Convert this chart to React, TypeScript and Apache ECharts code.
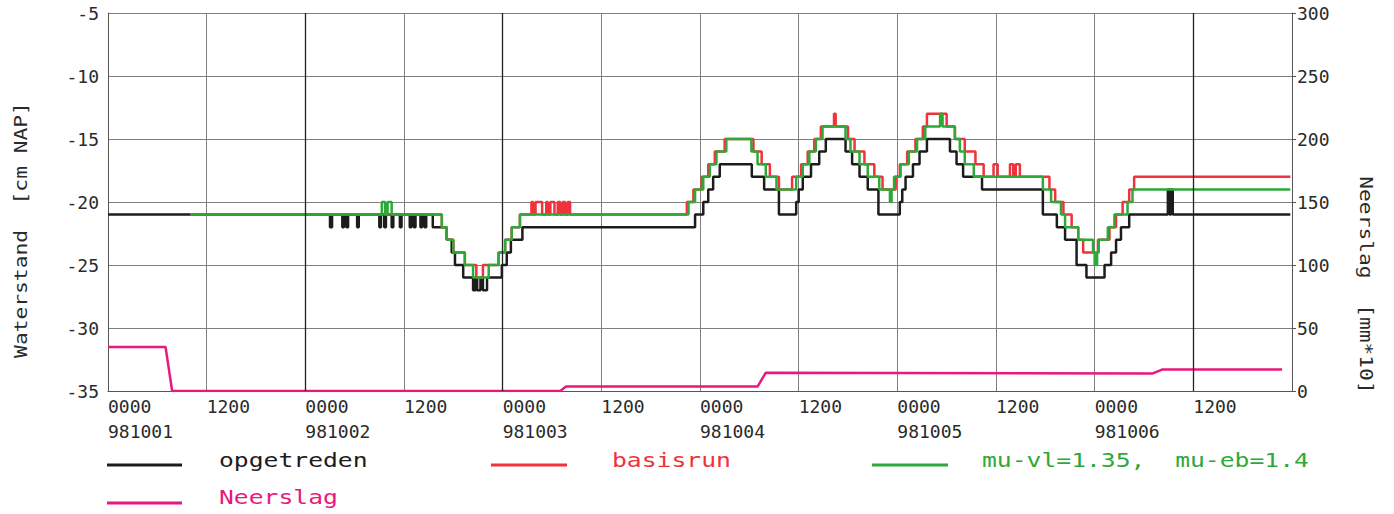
import React, { useEffect, useRef } from "react";
import * as echarts from "echarts";

// ---- tick labels ----
const dayLabels = ["981001", "981002", "981003", "981004", "981005", "981006"];
const hourLabels = ["0000", "1200"];
const darkGridHours = [24, 48, 132];

// ---- series: [hour since 981001 0000, value]; each value holds until the next point ----
const opgetreden: [number, number][] = [
  [0, -21], [27.0, -22], [27.25, -21], [28.5, -22], [28.7, -21], [29.0, -22], [29.2, -21],
  [30.3, -22], [30.5, -21], [33.0, -22], [33.2, -21], [33.6, -22], [33.8, -21], [34.5, -22],
  [34.7, -21], [35.5, -22], [35.7, -21], [36.7, -22], [36.9, -21], [37.2, -22], [37.4, -21],
  [38.0, -22], [38.2, -21], [38.5, -22], [38.7, -21],
  [39.5, -22], [41.2, -23], [41.8, -24], [42.2, -25], [43.2, -26], [44.4, -27], [44.7, -26],
  [44.9, -27], [45.3, -26], [45.6, -27], [46.1, -26], [47.9, -25], [48.5, -24], [49.0, -23],
  [50.4, -22], [71.4, -21], [72.4, -20], [73.0, -19], [73.6, -18], [74.4, -17], [78.3, -18],
  [79.8, -19], [81.6, -21], [83.7, -20], [84.0, -19], [84.5, -18], [85.5, -17], [86.5, -16],
  [87.3, -15], [89.7, -16], [90.5, -17], [91.4, -18], [92.4, -19], [93.7, -21], [96.3, -20],
  [96.6, -19], [97.0, -18], [97.9, -17], [98.7, -16], [99.6, -15], [102.4, -16], [103.2, -17],
  [104.0, -18], [106.3, -19], [113.7, -21], [115.4, -22], [116.4, -23], [117.8, -25],
  [119.0, -26], [121.2, -25], [122.0, -24], [122.6, -23], [123.2, -22], [124.2, -21],
  [128.9, -19], [129.1, -21], [129.3, -19], [129.5, -21], [143.8, -21],
];

const basisrun: [number, number][] = [
  [10, -21], [40.6, -22], [41.2, -23], [42.0, -24], [43.4, -25], [44.8, -26], [45.6, -25],
  [47.5, -24], [48.3, -23], [49.1, -22], [50.1, -21], [51.5, -20], [51.7, -21], [52.0, -20],
  [52.8, -21], [53.3, -20], [53.5, -21], [53.8, -20], [54.3, -21], [54.7, -20], [55.0, -21],
  [55.3, -20], [55.6, -21], [55.9, -20], [56.2, -21], [70.4, -20], [71.2, -19], [72.2, -18],
  [73.0, -17], [73.8, -16], [75.0, -15], [78.5, -16], [79.5, -17], [80.5, -18], [81.6, -19],
  [83.2, -18], [84.3, -17], [85.1, -16], [85.9, -15], [86.7, -14], [88.3, -13], [88.5, -14],
  [90.0, -15], [90.8, -16], [92.0, -17], [93.2, -18], [94.2, -19], [95.8, -18], [96.3, -17],
  [97.2, -16], [98.2, -15], [99.1, -14], [99.6, -13], [102.0, -14], [103.0, -15], [104.2, -16],
  [105.5, -17], [106.5, -18], [107.7, -17], [108.2, -18], [109.7, -17], [110.1, -18],
  [110.4, -17], [110.9, -18], [114.5, -19], [115.2, -20], [116.2, -21], [117.2, -22],
  [118.0, -23], [118.6, -24], [120.4, -23], [121.8, -22], [122.6, -21], [123.4, -20],
  [124.2, -19], [124.8, -18], [143.8, -18],
];

const muRun: [number, number][] = [
  [10, -21], [33.3, -20], [33.7, -21], [34.0, -20], [34.5, -21], [40.6, -22], [41.2, -23],
  [42.0, -24], [43.4, -25], [44.4, -26], [46.3, -25], [47.5, -24], [48.3, -23], [49.1, -22],
  [50.1, -21], [70.6, -20], [71.4, -19], [72.4, -18], [73.2, -17], [74.0, -16], [75.2, -15],
  [78.25, -16], [79.0, -17], [80.0, -18], [81.3, -19], [83.7, -18], [84.5, -17], [85.3, -16],
  [86.1, -15], [86.9, -14], [89.7, -15], [90.3, -16], [91.4, -17], [92.4, -18], [93.8, -19],
  [95.1, -20], [95.3, -19], [95.6, -18], [96.4, -17], [97.4, -16], [98.4, -15], [99.4, -14],
  [101.2, -13], [101.5, -14], [103.0, -15], [103.6, -16], [104.2, -17], [105.3, -18],
  [113.7, -19], [114.7, -20], [115.9, -21], [116.4, -22], [118.0, -23], [119.8, -24],
  [120.0, -25], [120.3, -24], [120.5, -23], [121.6, -22], [122.4, -21], [124.0, -20],
  [124.6, -19], [143.8, -19],
];

const neerslag: [number, number][] = [
  [0, 35], [7.0, 35], [7.8, 0], [55.0, 0], [55.7, 3.5], [79.0, 3.5], [80.0, 14.5],
  [127.0, 13.8], [128.2, 17], [142.8, 17],
];

const BLACK = "#1c1c1c";
const RED = "#f0323c";
const GREEN = "#2fa83a";
const PINK = "#e8197d";
const MONO = '"DejaVu Sans Mono", monospace';

export default function App() {
  const ref = useRef<HTMLDivElement>(null);
  useEffect(() => {
    document.body.style.margin = "0";
    const chart = echarts.init(ref.current!, null, { renderer: "svg" });
    const labelStyle = { fontFamily: MONO, fontSize: 18, color: "#2a2a2a" };
    const legendText = (x: number, y: number, text: string, color: string) => ({
      type: "text",
      x,
      y,
      scaleX: 1.3,
      style: { text, fill: color, font: `19px ${MONO}`, verticalAlign: "middle", align: "left" },
    });
    const legendLine = (x1: number, x2: number, y: number, color: string) => ({
      type: "line",
      shape: { x1, y1: y, x2, y2: y },
      style: { stroke: color, lineWidth: 3 },
    });
    const option: any = {
      animation: false,
      backgroundColor: "#ffffff",
      grid: { left: 108, right: 102, top: 13, bottom: 123, containLabel: false },
      xAxis: {
        type: "value",
        min: 0,
        max: 144,
        interval: 12,
        axisLine: { show: true, onZero: false, lineStyle: { color: "#555", width: 1 } },
        axisTick: { show: false },
        splitLine: { show: true, lineStyle: { color: "#808080", width: 1 } },
        axisLabel: {
          ...labelStyle,
          align: "left",
          lineHeight: 25,
          margin: 3,
          showMaxLabel: false,
          formatter: (v: number) => {
            const i = Math.round(v / 12);
            if (i >= dayLabels.length * 2) return "";
            const day = Math.floor(i / 2);
            return i % 2 === 0 ? `${hourLabels[0]}\n${dayLabels[day]}` : hourLabels[1];
          },
        },
      },
      yAxis: [
        {
          type: "value",
          min: -35,
          max: -5,
          interval: 5,
          position: "left",
          axisLine: { show: true, lineStyle: { color: "#555", width: 1 } },
          axisTick: { show: false },
          splitLine: { show: true, lineStyle: { color: "#808080", width: 1 } },
          axisLabel: { ...labelStyle, margin: 9 },
        },
        {
          type: "value",
          min: 0,
          max: 300,
          interval: 50,
          position: "right",
          axisLine: { show: true, lineStyle: { color: "#555", width: 1 } },
          axisTick: { show: true, length: 4, lineStyle: { color: "#555" } },
          splitLine: { show: false },
          axisLabel: { ...labelStyle, margin: 5 },
        },
      ],
      series: [
        {
          name: "opgetreden",
          type: "line",
          step: "end",
          yAxisIndex: 0,
          data: opgetreden,
          showSymbol: false,
          symbol: "none",
          lineStyle: { color: BLACK, width: 2.5 },
          itemStyle: { color: BLACK },
          markLine: {
            silent: true,
            symbol: "none",
            label: { show: false },
            lineStyle: { color: "#222", width: 1.3, type: "solid" },
            data: darkGridHours.map((h) => ({ xAxis: h })),
          },
        },
        {
          name: "basisrun",
          type: "line",
          step: "end",
          yAxisIndex: 0,
          data: basisrun,
          showSymbol: false,
          symbol: "none",
          lineStyle: { color: RED, width: 2.5 },
          itemStyle: { color: RED },
        },
        {
          name: "mu-vl=1.35,  mu-eb=1.4",
          type: "line",
          step: "end",
          yAxisIndex: 0,
          data: muRun,
          showSymbol: false,
          symbol: "none",
          lineStyle: { color: GREEN, width: 2.5 },
          itemStyle: { color: GREEN },
        },
        {
          name: "Neerslag",
          type: "line",
          yAxisIndex: 1,
          data: neerslag,
          showSymbol: false,
          symbol: "none",
          lineStyle: { color: PINK, width: 2.5 },
          itemStyle: { color: PINK },
        },
      ],
      graphic: [
        {
          type: "text",
          x: 21,
          y: 230,
          rotation: Math.PI / 2,
          scaleX: 1.25,
          style: { text: "Waterstand  [cm NAP]", fill: "#2a2a2a", font: `17px ${MONO}`, align: "center", verticalAlign: "middle" },
        },
        {
          type: "text",
          x: 1366,
          y: 285,
          rotation: -Math.PI / 2,
          scaleX: 1.25,
          style: { text: "Neerslag  [mm*10]", fill: "#2a2a2a", font: `17px ${MONO}`, align: "center", verticalAlign: "middle" },
        },
        legendLine(107, 182, 465, BLACK),
        legendText(219, 461, "opgetreden", BLACK),
        legendLine(491, 567, 465, RED),
        legendText(612, 461, "basisrun", RED),
        legendLine(872, 948, 465, GREEN),
        legendText(982, 461, "mu-vl=1.35,  mu-eb=1.4", GREEN),
        legendLine(107, 182, 503, PINK),
        legendText(219, 498, "Neerslag", PINK),
      ],
    };
    chart.setOption(option);
    return () => chart.dispose();
  }, []);
  return (
    <div
      ref={ref}
      style={{ position: "fixed", left: 0, top: 0, width: 1394, height: 514, background: "#fff" }}
    />
  );
}
